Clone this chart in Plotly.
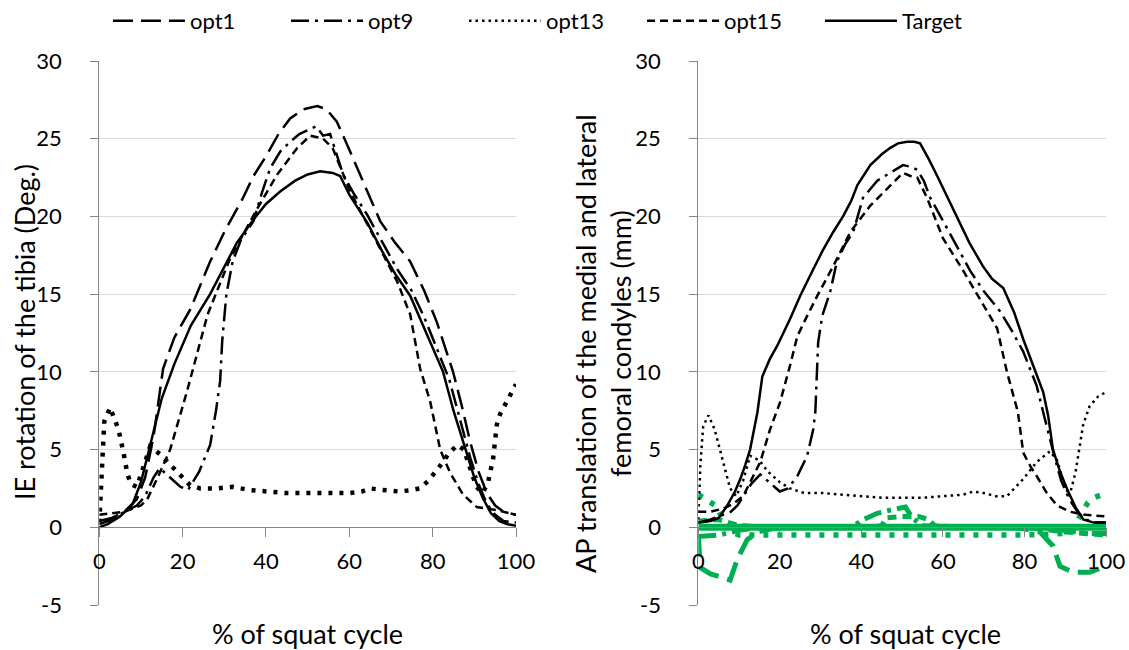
import plotly.graph_objects as go

# ---------------- data: left panel (IE rotation of the tibia, deg) ----------------
L_target_x = [0, 2, 5, 8, 10, 12, 15, 18, 22, 26.6, 30, 33, 37, 40, 43.4, 47, 50, 53, 56, 57.8, 60, 64.3, 68, 71, 74.6, 78, 82.5, 85, 87.8, 90, 92, 94, 96, 98, 100]
L_target_y = [0, 0.2, 0.7, 1.5, 2.9, 5.0, 8.3, 10.5, 13, 15, 16.8, 18.3, 19.8, 20.8, 21.6, 22.3, 22.7, 22.9, 22.8, 22.6, 21.4, 19.6, 17.7, 16.3, 14.9, 12.8, 10, 7.5, 5, 3.2, 1.9, 0.9, 0.4, 0.2, 0.1]

L_opt1_x = [0, 3, 6, 9, 11, 13, 15.3, 18, 21.8, 26.6, 30, 34.5, 37, 40.3, 43, 45.8, 49, 52.3, 54.5, 57, 59.5, 61.9, 64.5, 67.4, 71, 74.6, 78, 81, 84.9, 87, 89, 91, 93, 95, 97, 100]
L_opt1_y = [0.4, 0.6, 1.0, 1.8, 3.2, 5.8, 10.2, 12.2, 14, 17.1, 19, 21.2, 22.6, 24, 25.3, 26.3, 26.9, 27.1, 26.9, 26.1, 24.6, 23.1, 21.5, 19.7, 18.3, 17.1, 15.2, 13.2, 10, 7.8, 5.5, 3.6, 2.2, 1.4, 1.0, 0.8]

L_opt9_x = [0, 3, 6, 9, 11, 13, 14.5, 17, 19.5, 21.3, 24, 26.6, 28, 29, 29.5, 30.5, 32, 34, 37, 39, 41, 43.5, 45.8, 48, 50.6, 52, 53.7, 55.4, 58.5, 61, 64.3, 68, 71.5, 75, 78, 81, 84, 86.5, 89, 91, 93, 95, 97, 100]
L_opt9_y = [0.2, 0.5, 1.0, 1.4, 2.0, 3.2, 3.8, 3.2, 2.6, 2.4, 3.6, 5.3, 7.5, 9.4, 12, 15, 17.1, 18.5, 19.7, 21.5, 23.1, 24.2, 24.8, 25.3, 25.6, 25.8, 25.2, 25.3, 22.7, 21.5, 20.1, 18.3, 16.6, 15.2, 13.5, 11.5, 9.5, 7, 4.5, 2.8, 1.5, 0.8, 0.4, 0.3]

L_opt13_x = [0, 0.6, 1.2, 2.6, 4.6, 5.8, 6.7, 7.5, 9, 10.5, 12.2, 14.6, 16.3, 18.2, 20, 21.8, 24.2, 28, 32, 36, 40, 45, 50, 55, 60, 63, 65, 68, 72, 75, 77, 79, 80.6, 82.5, 83.7, 85.9, 87.5, 89, 90.5, 92, 93.3, 94.5, 95.4, 96.2, 97.4, 98.6, 100]
L_opt13_y = [0.3, 4, 6.8, 7.7, 6.3, 4.8, 3.5, 2.8, 2.6, 3.8, 5.2, 4.7, 4.2, 3.7, 3.2, 2.7, 2.5, 2.5, 2.6, 2.4, 2.3, 2.2, 2.2, 2.2, 2.2, 2.3, 2.5, 2.4, 2.3, 2.4, 2.5, 3.0, 3.5, 4.2, 4.7, 5.3, 5.0, 3.8, 2.6, 2.2, 2.9, 4.4, 6.6, 7.3, 7.9, 8.5, 9.2]

L_opt15_x = [0, 3, 6, 10, 11.5, 14, 17, 21, 26, 31.4, 37.9, 42.7, 47.5, 50.6, 53.7, 56, 60.2, 65.7, 71.5, 74.6, 77, 79.4, 81.8, 84.2, 87.3, 90.6, 95.4, 100]
L_opt15_y = [0.8, 0.9, 1.0, 1.4, 1.8, 3.2, 5.0, 8.7, 13.7, 17.3, 20.5, 22.7, 24.4, 25.2, 25.0, 24.4, 21.6, 18.8, 15.8, 13.7, 10.2, 8.1, 5.0, 3.5, 2.1, 1.3, 1.1, 0.8]

# ---------------- data: right panel (AP translation, mm) ----------------
R_target_x = [0, 3, 5, 7.1, 9, 10.3, 11.5, 12.7, 14.5, 15.7, 17.5, 19.4, 22.5, 25, 28.2, 30.5, 33.1, 35.5, 37.5, 39, 42.2, 45, 47, 49, 51.2, 53, 54.4, 56.5, 58.6, 61, 63.5, 66.5, 69.8, 72, 74.8, 77.5, 79.7, 82, 84.6, 85.8, 87, 88.7, 90.4, 92.5, 94.4, 97, 100]
R_target_y = [0.3, 0.4, 0.6, 1.4, 2.3, 3.1, 4.0, 5.0, 7.4, 9.7, 10.8, 11.7, 13.4, 14.9, 16.6, 17.8, 19.0, 20.0, 21.0, 22.0, 23.3, 24.0, 24.4, 24.7, 24.8, 24.8, 24.7, 23.7, 22.6, 21.3, 19.9, 18.3, 16.8, 16.0, 15.4, 13.8, 12.1, 10.5, 8.7, 7.2, 5.0, 3.6, 2.5, 1.3, 0.5, 0.3, 0.3]

R_opt9_x = [0, 3, 6, 8, 9.6, 11, 13, 15.2, 17.5, 20, 22, 24.3, 26.7, 28.2, 28.7, 29.4, 30.4, 32.4, 34, 36, 38, 40.4, 43.9, 47, 50.2, 52, 53.7, 55.3, 56.9, 59, 61, 64, 66.7, 70, 74, 77, 79.7, 83, 84.6, 86, 87.5, 89, 91, 93, 95, 97.5, 100]
R_opt9_y = [0.3, 0.5, 0.8, 1.0, 1.4, 2.0, 2.8, 3.4, 2.9, 2.3, 2.5, 3.3, 4.6, 6.3, 7.4, 11.9, 13.6, 15.2, 17.1, 18.2, 19.0, 21.2, 22.3, 22.8, 23.3, 23.2, 23.0, 22.3, 21.2, 20.2, 19.2, 17.8, 16.5, 15.2, 13.9, 12.6, 11.3, 9.1, 7.4, 5.9, 4.4, 3.0, 1.8, 1.0, 0.5, 0.3, 0.3]

R_opt13_x = [0, 0.5, 1.2, 2.5, 4, 6.1, 7.8, 9.3, 11, 12.7, 15, 17, 20, 22.5, 26, 30.6, 35, 40, 45, 50, 55, 60, 65, 67.4, 70, 73, 75.7, 77.5, 79.7, 81.5, 83, 86.3, 88, 89.5, 91, 92.5, 94.4, 96, 98, 100]
R_opt13_y = [0.5, 4, 6.5, 7.2, 6.3, 4.2, 2.5, 2.0, 3.0, 4.6, 4.3, 3.6, 2.9, 2.5, 2.2, 2.2, 2.1, 2.0, 1.9, 1.9, 1.9, 2.0, 2.1, 2.3, 2.2, 2.0, 2.0, 2.5, 3.1, 3.7, 4.2, 4.9, 4.3, 3.0, 2.0, 3.5, 6.6, 7.8, 8.4, 8.7]

R_opt15_x = [0, 3, 6.1, 8.5, 11, 13, 15.2, 17.6, 20, 22.5, 24.3, 26.7, 29.2, 33.1, 37.3, 42.2, 47, 50.2, 52, 53.7, 56.1, 60, 65, 69.9, 73.3, 75.7, 78.4, 79.7, 81.5, 83, 85.5, 88, 91.2, 95, 100]
R_opt15_y = [1.0, 1.0, 1.2, 1.5, 2.0, 3.0, 4.2, 6.3, 8.0, 10.4, 12.3, 13.6, 14.9, 16.8, 19.0, 20.7, 22.0, 22.8, 22.6, 22.5, 21.2, 18.6, 16.5, 14.3, 12.8, 10.0, 7.4, 4.8, 3.9, 3.3, 2.2, 1.4, 1.0, 0.8, 0.7]

# green (second set) in right panel
G_target_x = [0, 25, 50, 75, 100]
G_target_y = [0, 0, 0, 0, 0]

G_opt1_x = [0, 0.5, 3, 5, 7.8, 9.5, 12, 14.5, 18, 25, 35, 45, 55, 65, 75, 80, 83.8, 87, 88.7, 91.9, 96, 100]
G_opt1_y = [-0.5, -2.6, -3.0, -3.2, -3.4, -2.1, -0.8, -0.3, -0.1, 0, 0, 0, 0, 0, 0, -0.1, -0.3, -1.2, -2.5, -2.9, -2.9, -2.5]

G_opt9_x = [0, 5, 10, 15, 25, 38, 39.7, 43.9, 47, 50.8, 52.5, 55, 65, 80, 90, 95, 100]
G_opt9_y = [-0.6, -0.5, -0.2, 0, 0, 0, 0.4, 0.9, 1.1, 1.3, 0.6, 0.1, 0, 0, -0.2, -0.4, -0.4]

G_opt13_x = [0, 1.2, 4.2, 6.1, 8, 10, 20, 30, 40, 50, 60, 70, 80, 90, 92, 93.6, 95.6, 97, 99, 100]
G_opt13_y = [2.1, 1.9, 1.4, 0.5, -0.3, -0.5, -0.5, -0.5, -0.5, -0.5, -0.5, -0.5, -0.5, -0.4, 0.0, 0.7, 1.6, 1.9, 2.1, 2.0]

G_opt15_x = [0, 5, 10, 20, 40, 45, 46, 50, 54, 56.5, 58, 65, 80, 90, 100]
G_opt15_y = [0.4, 0.5, 0.1, 0, 0, 0.1, 0.6, 0.7, 0.7, 0.5, 0.1, 0, 0, -0.3, -0.5]

series_names = ["opt1", "opt9", "opt13", "opt15", "Target"]
y_ticks = [-5, 0, 5, 10, 15, 20, 25, 30]
y_tick_text = ["-5", "0", "5", "10", "15", "20", "25", "30"]
x_ticks = [0, 20, 40, 60, 80, 100]
left_ylabel = "IE rotation of the tibia (Deg.)"
right_ylabel = "AP translation of the medial and lateral<br>femoral condyles (mm)"
xlabel = "% of squat cycle"

# ---------------- styles ----------------
BLACK = "#000000"
GREEN = "#00B050"
FONT = "Lato"
styles = {
    "opt1": dict(dash="20px,8px", width=2.5),
    "opt9": dict(dash="18px,6px,3px,6px", width=2.5),
    "opt13": dict(dash="4px,7px", width=4.5),
    "opt15": dict(dash="8px,5px", width=2.5),
    "Target": dict(dash="solid", width=2.5),
}
r13_style = dict(dash="2.5px,4px", width=2.5)

fig = go.Figure()

left = {"opt1": (L_opt1_x, L_opt1_y), "opt9": (L_opt9_x, L_opt9_y), "opt13": (L_opt13_x, L_opt13_y),
        "opt15": (L_opt15_x, L_opt15_y), "Target": (L_target_x, L_target_y)}
right = {"opt1": None, "opt9": (R_opt9_x, R_opt9_y), "opt13": (R_opt13_x, R_opt13_y),
         "opt15": (R_opt15_x, R_opt15_y), "Target": (R_target_x, R_target_y)}
green = {"Target": (G_target_x, G_target_y), "opt1": (G_opt1_x, G_opt1_y), "opt9": (G_opt9_x, G_opt9_y),
         "opt13": (G_opt13_x, G_opt13_y), "opt15": (G_opt15_x, G_opt15_y)}

for rank, name in enumerate(series_names, start=1):
    x, y = left[name]
    fig.add_trace(go.Scatter(x=x, y=y, mode="lines", name=name, legendgroup=name, legendrank=rank,
                             showlegend=(name != "opt13"),
                             line=dict(color=BLACK, **styles[name]), xaxis="x", yaxis="y"))

gstyles = {"Target": dict(dash="solid", width=7), "opt1": dict(dash="22px,9px", width=5),
           "opt9": dict(dash="18px,6px,4px,6px", width=5), "opt13": dict(dash="5px,9px", width=5.5),
           "opt15": dict(dash="9px,6px", width=5)}
for name in ["opt13", "opt1", "opt9", "opt15", "Target"]:
    x, y = green[name]
    fig.add_trace(go.Scatter(x=x, y=y, mode="lines", name=name + " (2)", showlegend=False,
                             line=dict(color=GREEN, **gstyles[name]), xaxis="x2", yaxis="y2"))

for rank, name in enumerate(series_names, start=1):
    if right[name] is None:
        continue
    x, y = right[name]
    st = r13_style if name == "opt13" else styles[name]
    fig.add_trace(go.Scatter(x=x, y=y, mode="lines", name=name, legendgroup=name, legendrank=rank,
                             showlegend=(name == "opt13"),
                             line=dict(color=BLACK, **st), xaxis="x2", yaxis="y2"))

AX = "#868686"
GRID = "#D9D9D9"
tickfont = dict(family=FONT, size=22, color="#000000")
y_dom = [1 - 605 / 650, 1 - 61 / 650]
zero_pos = y_dom[0] + (y_dom[1] - y_dom[0]) * 5 / 35

def xax(dom):
    return dict(domain=dom, range=[0, 100], tickvals=x_ticks, anchor="free", position=zero_pos,
                showline=True, linecolor=AX, linewidth=1, ticks="outside", ticklen=9, tickcolor=AX,
                showgrid=False, zeroline=False, tickfont=tickfont, ticklabelstandoff=5,
                automargin=False, fixedrange=True)

def yax(anchor_x):
    return dict(domain=y_dom, range=[-5, 30], tickvals=y_ticks, ticktext=y_tick_text, anchor=anchor_x,
                showline=True, linecolor=AX, linewidth=1, ticks="outside", ticklen=8, tickcolor=AX,
                showgrid=True, gridcolor=GRID, gridwidth=1, zeroline=False, tickfont=tickfont,
                ticklabelstandoff=24, automargin=False, fixedrange=True)

TITLE = dict(family=FONT, size=27, color="#000000")
fig.update_layout(
    template="none",
    width=1129, height=650, margin=dict(l=0, r=0, t=0, b=0, pad=0, autoexpand=False),
    paper_bgcolor="white", plot_bgcolor="white",
    font=dict(family=FONT, size=20, color="#000000"),
    xaxis=xax([99.3 / 1129, 516 / 1129]),
    yaxis=yax("x"),
    xaxis2=xax([698.3 / 1129, 1106 / 1129]),
    yaxis2=yax("x2"),
    showlegend=True,
    legend=dict(orientation="h", x=108 / 1129, xanchor="left", y=1, yanchor="top",
                entrywidth=91, entrywidthmode="pixels", font=dict(family=FONT, size=22),
                bgcolor="rgba(0,0,0,0)", borderwidth=0, itemwidth=72, tracegroupgap=0),
    annotations=[
        dict(text=xlabel, x=307 / 1129, y=1 - 633 / 650, xref="paper", yref="paper",
             showarrow=False, xanchor="center", yanchor="middle", font=TITLE),
        dict(text=xlabel, x=905 / 1129, y=1 - 633 / 650, xref="paper", yref="paper",
             showarrow=False, xanchor="center", yanchor="middle", font=TITLE),
        dict(text=left_ylabel, x=24 / 1129, y=1 - 332 / 650, xref="paper", yref="paper", textangle=-90,
             showarrow=False, xanchor="center", yanchor="middle", font=TITLE),
        dict(text=right_ylabel, x=603 / 1129, y=1 - 344 / 650, xref="paper", yref="paper", textangle=-90,
             showarrow=False, xanchor="center", yanchor="middle", font=TITLE),
    ],
)

fig.write_html("out.html")
